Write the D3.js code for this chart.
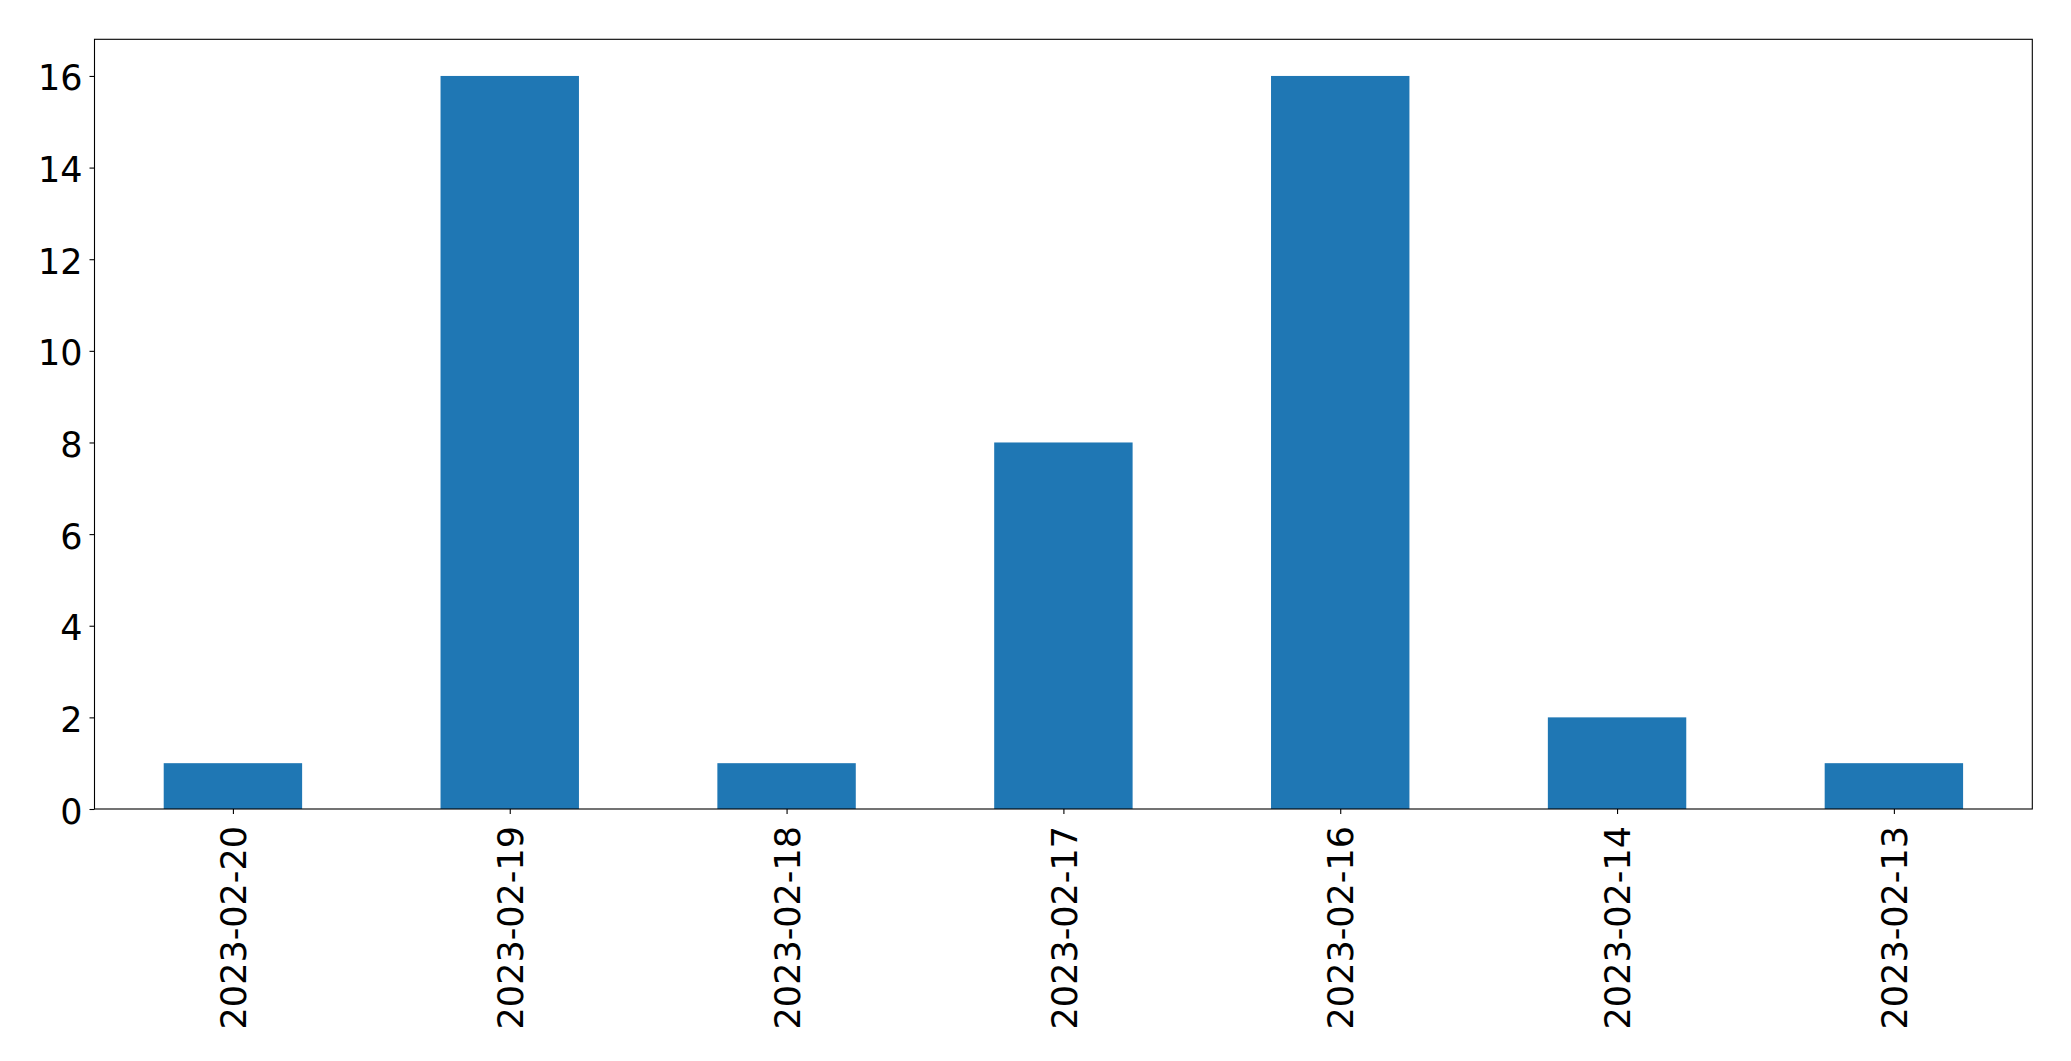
<!DOCTYPE html>
<html>
<head>
<meta charset="utf-8">
<script src="https://cdn.jsdelivr.net/npm/d3@7"></script>
<style>
  html, body { margin: 0; padding: 0; background: #fff; }
  svg { display: block; }
  text { font-family: "DejaVu Sans", sans-serif; fill: #000; }
</style>
</head>
<body>
<svg id="chart" width="2071" height="1061"></svg>
<script>
const categories = ["2023-02-20", "2023-02-19", "2023-02-18", "2023-02-17", "2023-02-16", "2023-02-14", "2023-02-13"];
const values = [1, 16, 1, 8, 16, 2, 1];
const yTicks = [0, 2, 4, 6, 8, 10, 12, 14, 16];

const W = 2071, H = 1061;
const margin = { left: 94.5, right: W - 2032.3, top: 39.3, bottom: H - 809 };
const fontSize = 35;

const svg = d3.select("#chart");
const x = d3.scaleLinear().domain([-0.5, categories.length - 0.5]).range([margin.left, W - margin.right]);
const y = d3.scaleLinear().domain([0, d3.max(values) * 1.05]).range([H - margin.bottom, margin.top]);
const barW = x(0.25) - x(-0.25);

svg.append("g").selectAll("rect").data(values).join("rect")
  .attr("x", (d, i) => x(i) - barW / 2)
  .attr("width", barW)
  .attr("y", d => y(d))
  .attr("height", d => y(0) - y(d))
  .attr("fill", "#1f77b4");

// frame
svg.append("rect")
  .attr("x", x.range()[0]).attr("y", y.range()[1])
  .attr("width", x.range()[1] - x.range()[0])
  .attr("height", y.range()[0] - y.range()[1])
  .attr("fill", "none").attr("stroke", "#000").attr("stroke-width", 1.1);

// y axis
const yAxis = d3.axisLeft(y).tickValues(yTicks).tickSize(5).tickPadding(7).tickFormat(d3.format("d"));
const gy = svg.append("g").attr("transform", `translate(${margin.left},0)`).call(yAxis);
gy.select(".domain").remove();
gy.selectAll(".tick line").attr("stroke", "#000").attr("stroke-width", 1.1);
gy.selectAll(".tick text").attr("font-size", fontSize).attr("font-family", "DejaVu Sans").attr("dy", "0.4em");

// x axis
const xAxis = d3.axisBottom(x).tickValues(d3.range(categories.length)).tickSize(5).tickFormat(i => categories[i]);
const gx = svg.append("g").attr("transform", `translate(0,${H - margin.bottom})`).call(xAxis);
gx.select(".domain").remove();
gx.selectAll(".tick line").attr("stroke", "#000").attr("stroke-width", 1.1);
gx.selectAll(".tick text")
  .attr("font-size", fontSize).attr("font-family", "DejaVu Sans")
  .attr("text-anchor", "end")
  .attr("transform", "rotate(-90)")
  .attr("x", -17).attr("y", 0).attr("dy", "0.36em");
</script>
</body>
</html>
